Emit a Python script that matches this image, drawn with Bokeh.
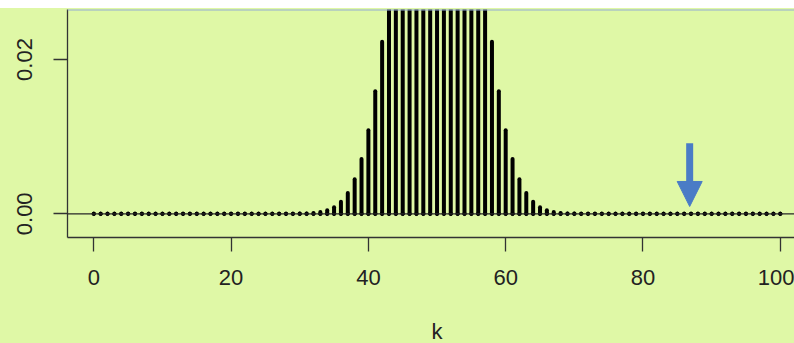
from bokeh.plotting import figure
from bokeh.layouts import column
from bokeh.models import (Range1d, FixedTicker, NumeralTickFormatter, Span, Arrow,
                          NormalHead, ColumnDataSource, Spacer)
from bokeh.core.properties import value
from bokeh.embed import file_html
from bokeh.resources import INLINE

# ---- data (binomial probabilities) ----
k_values = list(range(0, 101))
probabilities = [
    0.0, 0.0, 0.0, 0.0, 0.0, 0.0, 0.0, 0.0, 0.0, 0.0,
    0.0, 0.0, 0.0, 0.0, 0.0, 0.0, 0.0, 0.0, 0.0, 0.0,
    0.0, 0.0, 0.0, 0.0, 0.0, 0.0, 0.0, 0.0, 0.000004, 0.00001,
    0.000023, 0.000052, 0.000113, 0.000232, 0.000458, 0.000864, 0.00156, 0.0027, 0.00447, 0.00711,
    0.01084, 0.01587, 0.02229, 0.03007, 0.03895, 0.04847, 0.05796, 0.06659, 0.07353, 0.07803,
    0.07959,
    0.07803, 0.07353, 0.06659, 0.05796, 0.04847, 0.03895, 0.03007, 0.02229, 0.01587, 0.01084,
    0.00711, 0.00447, 0.0027, 0.00156, 0.000864, 0.000458, 0.000232, 0.000113, 0.000052, 0.000023,
    0.00001, 0.000004, 0.0, 0.0, 0.0, 0.0, 0.0, 0.0, 0.0, 0.0,
    0.0, 0.0, 0.0, 0.0, 0.0, 0.0, 0.0, 0.0, 0.0, 0.0,
    0.0, 0.0, 0.0, 0.0, 0.0, 0.0, 0.0, 0.0, 0.0, 0.0,
]
baseline = [0.0] * len(k_values)
x_ticks = [0, 20, 40, 60, 80, 100]
y_ticks = [0.0, 0.02]
x_title = "k"
arrow_k = 86.8
arrow_top = 0.00915
arrow_tip = 0.00095

BG = "#dff8a6"
BLUE = "#4a7cc6"
TXT = "#222222"
FONT = "Liberation Sans"

src = ColumnDataSource(dict(k=k_values, p=probabilities, b=baseline))

x_lo, x_hi = -3.83, 102.07
y_lo, y_hi = -0.003072, 0.02648

MAIN_H = 290
p = figure(width=794, height=MAIN_H, output_backend="svg", toolbar_location=None,
           x_range=Range1d(x_lo, x_hi), y_range=Range1d(y_lo, y_hi),
           min_border_left=67, min_border_right=0, min_border_top=1,
           min_border_bottom=61)

p.background_fill_color = BG
p.border_fill_color = BG
p.outline_line_color = None
p.xgrid.visible = False
p.ygrid.visible = False

# spikes
p.segment(x0="k", y0="b", x1="k", y1="p", source=src, line_color="black",
          line_width=4, line_cap="round")
p.scatter(x="k", y="b", source=src, size=3.5, color="black")

# horizontal line at zero
p.add_layout(Span(location=0, dimension="width", line_color="#262626", line_width=1.3))
# top border line
p.add_layout(Span(location=y_hi, dimension="width", line_color="#93abd3", line_width=2))

# arrow
p.add_layout(Arrow(end=NormalHead(size=25, fill_color=BLUE, line_color=BLUE, line_width=1),
                   x_start=arrow_k, y_start=arrow_top, x_end=arrow_k, y_end=arrow_tip,
                   line_color=BLUE, line_width=7))

for ax in (p.xaxis[0], p.yaxis[0]):
    ax.axis_line_color = "#333333"
    ax.axis_line_width = 1.3
    ax.major_tick_line_color = "#333333"
    ax.major_tick_line_width = 1.3
    ax.major_tick_out = 14
    ax.major_tick_in = 0
    ax.minor_tick_line_color = None
    ax.major_label_text_font = FONT
    ax.major_label_text_font_size = "22px"
    ax.major_label_text_color = TXT

p.xaxis.ticker = FixedTicker(ticks=x_ticks)
p.xaxis.major_label_standoff = 18

p.yaxis.ticker = FixedTicker(ticks=y_ticks)
p.yaxis.formatter = NumeralTickFormatter(format="0.00")
p.yaxis.major_label_orientation = "vertical"
p.yaxis.major_label_standoff = 21

# strip below the plot holding the x-axis title, same frame and x scale as the plot
STRIP_H = 343 - 8 - MAIN_H
t = figure(width=794, height=STRIP_H, output_backend="svg", toolbar_location=None,
           x_range=Range1d(x_lo, x_hi), y_range=Range1d(0, STRIP_H),
           min_border_left=67, min_border_right=0, min_border_top=0, min_border_bottom=0)
t.background_fill_color = BG
t.border_fill_color = BG
t.outline_line_color = None
t.axis.visible = False
t.grid.visible = False
t.text(x=[50], y=[STRIP_H - 33], text=[x_title], text_font=value(FONT),
       text_font_size="22px", text_color=TXT, text_align="center",
       text_baseline="middle")

layout = column(Spacer(width=794, height=8, styles={"background-color": "white"}),
                p, t, spacing=0, styles={"background-color": BG})

open("out.html", "w").write(file_html(layout, INLINE))
